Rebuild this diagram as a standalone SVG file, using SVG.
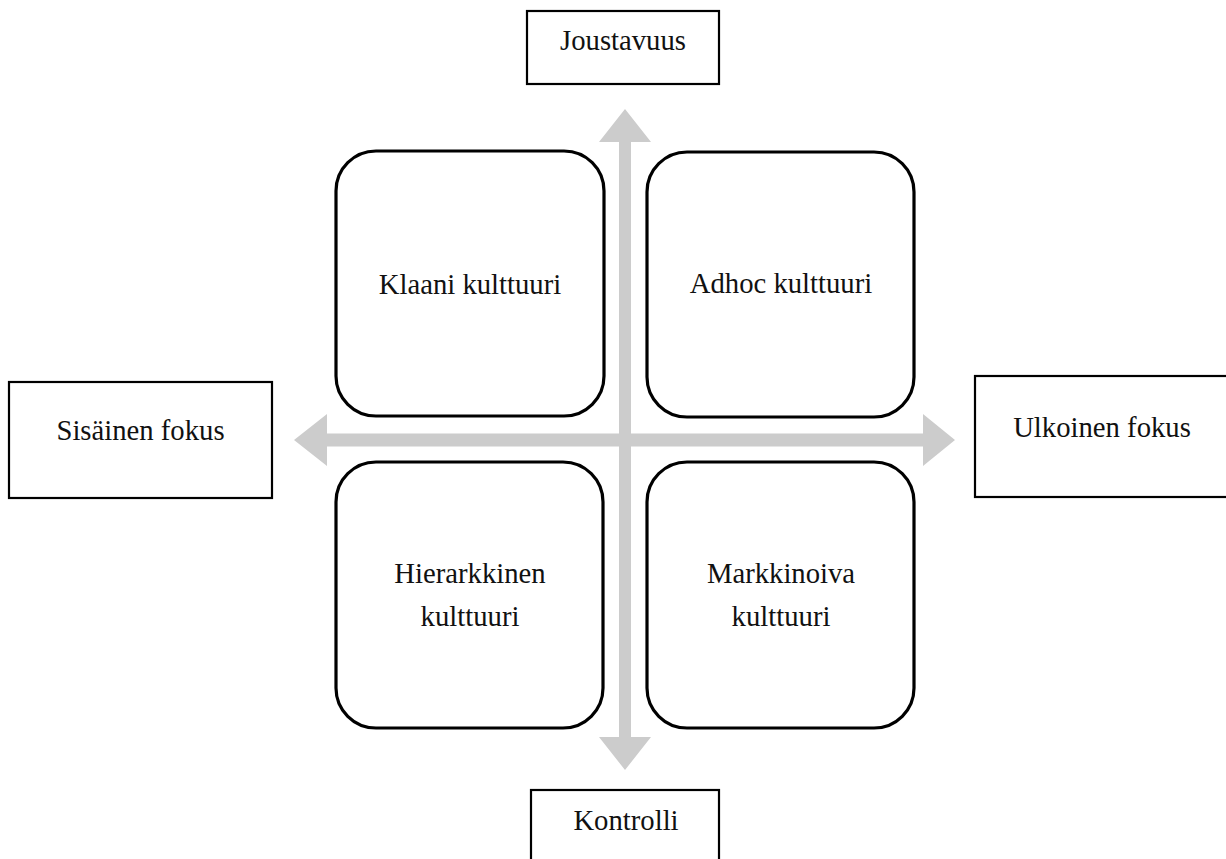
<svg xmlns="http://www.w3.org/2000/svg" width="1226" height="859" viewBox="0 0 1226 859">
<style>
  .lbl{font-family:"Liberation Serif","Times New Roman",serif;font-size:28.7px;fill:#111;text-anchor:middle}
  .axis{fill:#fff;stroke:#000;stroke-width:2.2}
  .quad{fill:#fff;stroke:#000;stroke-width:3.2}
  .arrow{fill:#cccccc;stroke:none}
</style>
<rect width="1226" height="859" fill="#fff"/>
<g id="connectors">
  <polygon class="arrow" points="625,109 651,142 631,142 631,737 651,737 625,770 599,737 619,737 619,142 599,142"/>
  <polygon class="arrow" points="294,440 327,414 327,433.5 923,433.5 923,414 955,440 923,466 923,446.5 327,446.5 327,466"/>
</g>
<g id="joustavuus">
  <rect class="axis" x="527" y="11" width="192" height="73"/>
  <text class="lbl" x="623" y="50">Joustavuus</text>
</g>
<g id="sisainen">
  <rect class="axis" x="9" y="382" width="263" height="116"/>
  <text class="lbl" x="140.5" y="440">Sisäinen fokus</text>
</g>
<g id="ulkoinen">
  <rect class="axis" x="975" y="376" width="260" height="121"/>
  <text class="lbl" x="1102" y="437">Ulkoinen fokus</text>
</g>
<g id="kontrolli">
  <rect class="axis" x="531" y="790" width="188" height="80"/>
  <text class="lbl" x="626" y="830">Kontrolli</text>
</g>
<g id="klaani">
  <rect class="quad" x="336" y="151" width="268" height="265" rx="40" ry="40"/>
  <text class="lbl" x="470" y="294">Klaani kulttuuri</text>
</g>
<g id="adhoc">
  <rect class="quad" x="647" y="152" width="267" height="265" rx="40" ry="40"/>
  <text class="lbl" x="781" y="293">Adhoc kulttuuri</text>
</g>
<g id="hierarkkinen">
  <rect class="quad" x="336" y="462" width="267" height="266" rx="40" ry="40"/>
  <text class="lbl" x="470" y="583">Hierarkkinen</text>
  <text class="lbl" x="470" y="626">kulttuuri</text>
</g>
<g id="markkinoiva">
  <rect class="quad" x="647" y="462" width="267" height="266" rx="40" ry="40"/>
  <text class="lbl" x="781" y="583">Markkinoiva</text>
  <text class="lbl" x="781" y="626">kulttuuri</text>
</g>
</svg>
